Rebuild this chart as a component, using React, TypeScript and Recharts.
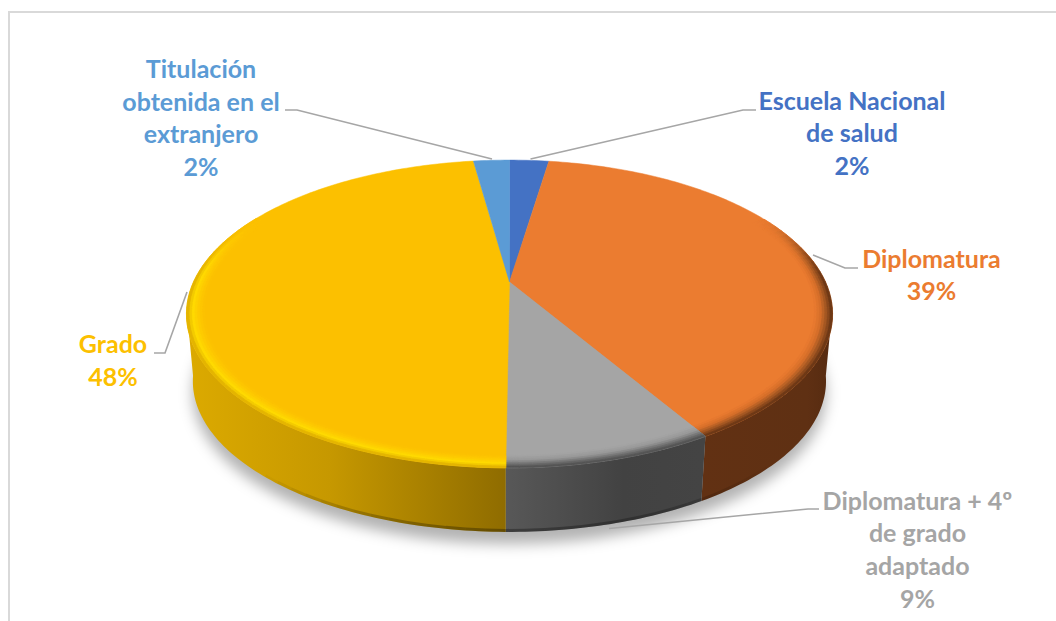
import React from "react";
import { PieChart, Pie } from "recharts";

const categories = [
  "Escuela Nacional de salud",
  "Diplomatura",
  "Diplomatura + 4º de grado adaptado",
  "Grado",
  "Titulación obtenida en el extranjero",
];
const shares = [2.4, 39.1, 8.65, 47.65, 2.2];
const categoryLines = [
  ["Escuela Nacional", "de salud"],
  ["Diplomatura"],
  ["Diplomatura + 4º", "de grado", "adaptado"],
  ["Grado"],
  ["Titulación", "obtenida en el", "extranjero"],
];
const faceColors = ["#4472c4", "#eb7c30", "#a5a5a5", "#fcc000", "#5b9bd5"];

const sliceData = categories.map((name, i) => ({ name, value: shares[i] }));
const shadowData = [{ name: "shadow", value: shares.reduce((a, b) => a + b, 0) }];

// label anchors and leader lines, page pixels
const labelLayout = [
  { x: 852, y: 109.5, leader: "530.5,159 743,110 756,110" },
  { x: 931.5, y: 267.7, leader: "813,255 845,268 858,268" },
  { x: 917.5, y: 509.5, leader: "609,528.5 808,509 819,509" },
  { x: 113, y: 353, leader: "187,292 165,353 154,353" },
  { x: 201, y: 78, leader: "492,159 297,110 285,110" },
];
const LINE_HEIGHT = 32.7;

// the flat pie is laid into perspective
const TILT = 0.2078;
const SQUASH = 0.466;
const BEVEL = 0.054;
const SHRINK = 0.98;
const VANISH = { x: 506, y: 3670 };

type Pt = [number, number];

const project = (cx: number, cy: number, r: number, deg: number, frac = 1): Pt => {
  const t = (deg * Math.PI) / 180;
  const u = frac * Math.sin(t);
  const v = -frac * Math.cos(t);
  const w = 1 - TILT * v;
  return [cx + (r * u) / w, cy + (SQUASH * r * v) / w];
};

const lower = ([x, y]: Pt): Pt => [
  VANISH.x + SHRINK * (x - VANISH.x),
  VANISH.y + SHRINK * (y - VANISH.y),
];

const pathOf = (pts: Pt[], close = true) =>
  pts.map((p, i) => `${i ? "L" : "M"}${p[0].toFixed(2)} ${p[1].toFixed(2)}`).join("") + (close ? "Z" : "");

const sweep = (from: number, to: number, step = 1) => {
  const out: number[] = [];
  const n = Math.max(1, Math.ceil((to - from) / step));
  for (let i = 0; i <= n; i++) out.push(from + ((to - from) * i) / n);
  return out;
};

const hex = (c: string) => [1, 3, 5].map((i) => parseInt(c.slice(i, i + 2), 16));
const mix = (a: string, b: string, t: number) => {
  const x = hex(a);
  const y = hex(b);
  return `rgb(${x.map((v, i) => Math.round(v + (y[i] - v) * t)).join(",")})`;
};
const ramp = (stops: [number, string][], t: number) => {
  for (let i = 1; i < stops.length; i++) {
    if (t <= stops[i][0]) {
      const [a, ca] = stops[i - 1];
      const [b, cb] = stops[i];
      return mix(ca, cb, (t - a) / (b - a));
    }
  }
  return stops[stops.length - 1][1];
};
const toHex = (rgb: string) =>
  "#" + rgb.match(/\d+/g)!.map((n) => Number(n).toString(16).padStart(2, "0")).join("");

const bevelStops: ([number, string][] | null)[] = [
  null,
  [[0, "#eb7c30"], [0.35, "#d66f2a"], [0.7, "#9a5220"], [1, "#5f3013"]],
  [[0, "#a5a5a5"], [0.4, "#989898"], [0.75, "#6a6a6a"], [1, "#4c4c4c"]],
  [[0, "#fcc000"], [0.4, "#fecc00"], [0.68, "#ffdc00"], [1, "#dcaa00"]],
  null,
];

const angles = (p: any): [number, number] => [90 - p.startAngle, 90 - p.endAngle];

function ShadowShape(p: any) {
  const pts = sweep(0, 360, 2).map((d) => {
    const [x, y] = lower(project(p.cx, p.cy, p.outerRadius, d));
    return [x, y + 12] as Pt;
  });
  return <path d={pathOf(pts)} fill="#000" fillOpacity={0.3} filter="url(#pieShadow)" />;
}

function WallShape(p: any) {
  const [a, b] = angles(p);
  const from = Math.max(a, 100);
  const to = Math.min(b, 260);
  if (to <= from) return <g />;
  const top = sweep(from, to).map((d) => project(p.cx, p.cy, p.outerRadius, d));
  const bottom = top.map(lower);
  // dark foot of the wall, only at the front
  const foot = sweep(from, to, 3).slice(1).map((d, i, all) => {
    const prev = i ? all[i - 1] : from;
    const q0 = lower(project(p.cx, p.cy, p.outerRadius, prev));
    const q1 = lower(project(p.cx, p.cy, p.outerRadius, d));
    const front = Math.max(0, (-Math.cos((d * Math.PI) / 180) - 0.72) / 0.28);
    return (
      <path
        key={d}
        d={pathOf([[q0[0], q0[1] - 1.5], [q1[0], q1[1] - 1.5]], false)}
        stroke="#000"
        strokeOpacity={0.3 * front}
        strokeWidth={3}
        fill="none"
      />
    );
  });
  return (
    <g>
      <path d={pathOf([...top, ...[...bottom].reverse()])} fill={`url(#wall${p.index})`} />
      {foot}
    </g>
  );
}

function TopShape(p: any) {
  const [a, b] = angles(p);
  const { cx, cy, outerRadius: r, fill, index } = p;
  const rim = sweep(a, b).map((d) => project(cx, cy, r, d));
  const stops = bevelStops[index];
  const quads: React.ReactNode[] = [];
  if (stops) {
    const rings = 7;
    const steps = sweep(a, b, 2);
    for (let s = 0; s < steps.length - 1; s++) {
      const mid = (steps[s] + steps[s + 1]) / 2;
      const f = -Math.cos((mid * Math.PI) / 180);
      const raw = Math.min(1, Math.max(0, (f + 0.5) / 0.5));
      const strength = raw * raw * (3 - 2 * raw);
      if (strength < 0.02) continue;
      for (let k = 0; k < rings; k++) {
        const f0 = 1 - BEVEL + (BEVEL * k) / rings;
        const f1 = 1 - BEVEL + (BEVEL * (k + 1)) / rings;
        const color = mix(fill, toHex(ramp(stops, (k + 0.5) / rings)), strength);
        quads.push(
          <path
            key={`${s}-${k}`}
            d={pathOf([
              project(cx, cy, r, steps[s], f0),
              project(cx, cy, r, steps[s + 1], f0),
              project(cx, cy, r, steps[s + 1], f1),
              project(cx, cy, r, steps[s], f1),
            ])}
            fill={color}
            stroke={color}
            strokeWidth={0.7}
          />
        );
      }
    }
  }
  return (
    <g>
      <path d={pathOf([[cx, cy], ...rim])} fill={fill} stroke={fill} strokeWidth={0.5} />
      {quads}
    </g>
  );
}

function SliceLabel(p: any) {
  const spot = labelLayout[p.index];
  const lines = [...categoryLines[p.index], `${Math.round(p.percent * 100)}%`];
  return (
    <g>
      <polyline points={spot.leader} fill="none" stroke="#a6a6a6" strokeWidth={1.6} />
      <text
        textAnchor="middle"
        fontFamily="Lato, sans-serif"
        fontWeight={700}
        fontSize={25}
        fill={faceColors[p.index]}
      >
        {lines.map((line, i) => (
          <tspan key={i} x={spot.x} y={spot.y + i * LINE_HEIGHT}>
            {line}
          </tspan>
        ))}
      </text>
    </g>
  );
}

export default function App() {
  const pieProps = {
    dataKey: "value",
    cx: 509.5,
    cy: 282,
    outerRadius: 316,
    startAngle: 90,
    endAngle: -270,
    stroke: "none",
    isAnimationActive: false,
  };
  return (
    <div style={{ position: "absolute", left: 0, top: 0, width: 1056, height: 621, overflow: "hidden", background: "#fff" }}>
      <div
        style={{
          position: "absolute",
          left: 8,
          top: 11,
          width: 1100,
          height: 700,
          borderTop: "2px solid #d9d9d9",
          borderLeft: "2px solid #d9d9d9",
        }}
      />
      <div style={{ position: "absolute", left: 0, top: 0 }}>
        <PieChart width={1056} height={621} margin={{ top: 0, right: 0, bottom: 0, left: 0 }}>
          <defs>
            <filter id="pieShadow" x="-10%" y="-20%" width="120%" height="140%">
              <feGaussianBlur stdDeviation="7" />
            </filter>
            <linearGradient id="wall1" gradientUnits="userSpaceOnUse" x1="700" y1="0" x2="834" y2="0">
              <stop offset="0" stopColor="#623113" />
              <stop offset="0.8" stopColor="#5f3013" />
              <stop offset="1" stopColor="#552a10" />
            </linearGradient>
            <linearGradient id="wall2" gradientUnits="userSpaceOnUse" x1="506" y1="0" x2="702" y2="0">
              <stop offset="0" stopColor="#585858" />
              <stop offset="0.6" stopColor="#424242" />
              <stop offset="1" stopColor="#444444" />
            </linearGradient>
            <linearGradient id="wall3" gradientUnits="userSpaceOnUse" x1="186" y1="0" x2="506" y2="0">
              <stop offset="0" stopColor="#dcaa00" />
              <stop offset="0.45" stopColor="#c69800" />
              <stop offset="1" stopColor="#8f6c00" />
            </linearGradient>
          </defs>
          <Pie {...pieProps} data={shadowData} fill="#000" shape={ShadowShape} />
          <Pie {...pieProps} data={sliceData} fill="#888" shape={WallShape} />
          <Pie
            {...pieProps}
            data={sliceData.map((d, i) => ({ ...d, fill: faceColors[i] }))}
            shape={TopShape}
            label={SliceLabel}
            labelLine={false}
          />
        </PieChart>
      </div>
    </div>
  );
}
